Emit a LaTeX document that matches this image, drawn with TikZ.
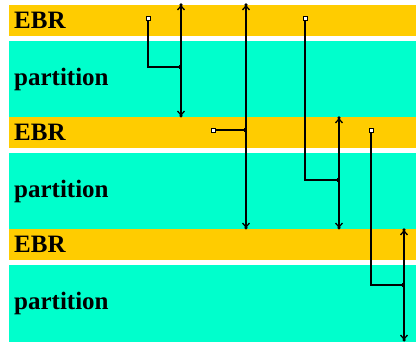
\documentclass[tikz,border=0pt]{standalone}
\usepackage{fontspec}
\setmainfont{Liberation Serif}
\usetikzlibrary{arrows.meta,calc}
\definecolor{ebrcol}{RGB}{255,204,0}
\definecolor{partcol}{RGB}{0,255,204}
\begin{document}
\begin{tikzpicture}[x=1pt,y=-1pt,
  ebrband/.style={fill=ebrcol,draw=none},
  partband/.style={fill=partcol,draw=none},
  lbl/.style={anchor=base west,inner sep=0pt,font=\fontsize{25}{25}\selectfont\bfseries},
  link/.style={line width=1.3pt,black},
  dbl/.style={line width=1.3pt,black,{Straight Barb[length=4pt,width=7pt]}-{Straight Barb[length=4pt,width=7pt]}},
  src/.style={draw=black,fill=white,line width=0.9pt,minimum size=4pt,inner sep=0pt,rectangle},
  tipdot/.style={fill=black,circle,inner sep=0pt,minimum size=3.5pt},
]
\useasboundingbox (0,0) rectangle (416,342);
\fill[white] (0,0) rectangle (416,342);
% bands
\foreach \k in {0,1,2}{
  \fill[ebrband] (9,{5+112*\k}) rectangle (416,{36+112*\k});
  \fill[partband] (9,{41+112*\k}) rectangle (416,{118+112*\k});
}
\node[lbl] (e1) at (14,29) {EBR};
\node[lbl] (p1) at (14,86) {partition};
\node[lbl] (e2) at (14,141) {EBR};
\node[lbl] (p2) at (14,198) {partition};
\node[lbl] (e3) at (14,253) {EBR};
\node[lbl] (p3) at (14,310) {partition};
% arrow ends
\coordinate (a1t) at (181,5);   \coordinate (a1b) at (181,116);
\coordinate (a2t) at (246,5);   \coordinate (a2b) at (246,228);
\coordinate (a3t) at (339,118); \coordinate (a3b) at (339,228);
\coordinate (a4t) at (404,230); \coordinate (a4b) at (404,340);
\draw[dbl] (a1t) -- (a1b);
\draw[dbl] (a2t) -- (a2b);
\draw[dbl] (a3t) -- (a3b);
\draw[dbl] (a4t) -- (a4b);
\foreach \c in {a1t,a1b,a2t,a2b,a3t,a3b,a4t,a4b}{ \node[tipdot] at (\c) {}; }
% junctions
\coordinate (j1) at (181,67);
\coordinate (j2) at (246,130);
\coordinate (j3) at (339,180);
\coordinate (j4) at (404,285);
% sources
\node[src] (s1) at (148,18) {};
\node[src] (s2) at (213,130) {};
\node[src] (s3) at (305,18) {};
\node[src] (s4) at (371,130) {};
\draw[link] (s1.south) |- (j1);
\draw[link] (s2.east) -- (j2);
\draw[link] (s3.south) |- (j3);
\draw[link] (s4.south) |- (j4);
\foreach \c in {j1,j2,j3,j4}{ \fill[black] ($(\c)+(-2.5,-2)$) rectangle ($(\c)+(0.5,2)$); }
\end{tikzpicture}
\end{document}
